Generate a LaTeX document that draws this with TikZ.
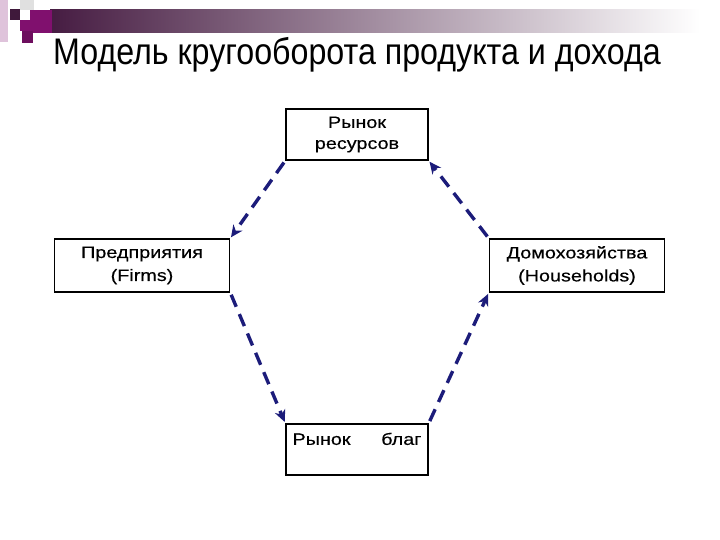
\documentclass[tikz,border=0pt]{standalone}
\usepackage{fontspec}
\setmainfont{Liberation Sans}
\newfontfamily\boxfont[FakeStretch=1.2,FakeBold=0.4]{Liberation Sans}
\newfontfamily\titlefont[FakeStretch=0.87]{Liberation Sans}
\usepackage{xcolor}
\usetikzlibrary{arrows.meta,positioning}

\definecolor{plum}{RGB}{70,28,66}
\definecolor{magplum}{RGB}{128,16,110}
\definecolor{flowblue}{RGB}{28,28,122}

\begin{document}
\begin{tikzpicture}[
  x=1pt, y=-1pt,
  market/.style={draw, line width=1.8pt, align=center, minimum width=142pt, minimum height=51pt, inner sep=0pt, font=\boxfont\fontsize{16.5}{21}\selectfont},
  agent/.style={market, minimum width=175pt, minimum height=53pt, font=\boxfont\fontsize{16.5}{23}\selectfont},
  flow/.style={-{Stealth[length=12pt,width=11pt]}, flowblue, line width=3.4pt, dash pattern=on 13pt off 8pt, shorten <=2pt, shorten >=1pt}
]
\useasboundingbox (0,0) rectangle (720,540);

% header bar and squares
\shade[left color=plum, middle color=black!38, right color=white] (50,10) rectangle (700,33);
\fill[magplum!25] (0,0) rectangle (8,42);
\fill[black!12] (20,0) rectangle (34,10);
\fill[plum!90!black] (10,9) rectangle (20,20);
\fill[white] (20,10) rectangle (30,20);
\fill[magplum] (30,10) rectangle (52,33);
\fill[magplum] (20,20) rectangle (30,31);
\fill[magplum!85!black] (22,31) rectangle (33,43);

\node[font=\titlefont\fontsize{37}{37}\selectfont, anchor=base] (title) at (357,65) {Модель кругооборота продукта и дохода};

\node[market] (res) at (357,134.5) {Рынок\\ресурсов};
\node[agent] (firms) at (142,265.5) {Предприятия\\(Firms)};
\node[agent] (house) at (577,265.5) {Домохозяйства\\(Households)};
\node[market, below=262pt of res, text width=129pt, align=left] (goods) {Рынок\hfill благ\\ \mbox{}};

\draw[flow] (res.south west) -- (firms.north east);
\draw[flow] (house.north west) -- (res.south east);
\draw[flow] (firms.south east) -- (goods.north west);
\draw[flow] (goods.north east) -- (house.south west);
\end{tikzpicture}
\end{document}
